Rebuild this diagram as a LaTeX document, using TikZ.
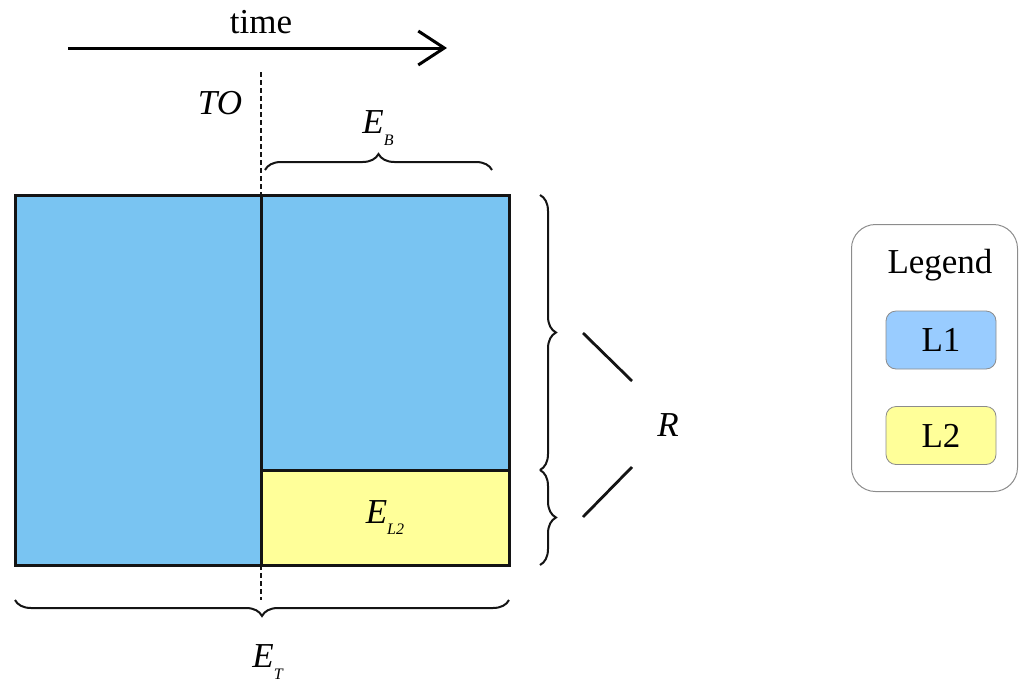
\documentclass[tikz,border=0pt]{standalone}
\usepackage{fontspec}
\setmainfont{Liberation Serif}
\usepackage{tikz}
\usetikzlibrary{arrows.meta,positioning,calc,decorations.pathreplacing}
\definecolor{lone}{RGB}{121,196,242}
\definecolor{lonelt}{RGB}{153,204,255}
\definecolor{ltwo}{RGB}{255,255,153}
\definecolor{frame}{RGB}{140,140,140}
\definecolor{ink}{RGB}{20,20,20}
\newcommand{\lowsub}[1]{\raisebox{-0.7ex}{\fontsize{8}{9}\selectfont\textit{#1}}}

\begin{document}
\begin{tikzpicture}[x=0.5pt,y=-0.5pt,>=Stealth,font=\fontsize{17.5}{20}\selectfont]
\tikzset{region/.style={draw=ink,line width=1.5pt,inner sep=0pt,outer sep=0pt},
  keybox/.style={draw=frame,rounded corners=5pt,inner sep=0pt,minimum width=55pt,minimum height=29pt,line width=0.4pt},
  curly/.style={decorate,decoration={brace,amplitude=8pt},line width=1pt,draw=ink},
  tick/.style={line width=1.4pt,draw=ink},
  cut/.style={line width=1.3pt,draw=ink,dash pattern=on 2.5pt off 1.5pt}}
\useasboundingbox (0,0) rectangle (1019,681);
% time axis
\coordinate (t0) at (68,48);
\coordinate (t1) at (447,48);
\draw[line width=1.5pt,-{Straight Barb[length=13pt,width=17pt,line width=1.5pt]}] (t0) -- (t1);
\node (time) at (261,22) {time};
% regions
\node[region,fill=lone,minimum width=247pt,minimum height=185pt,anchor=north west] (all) at (15,195) {};
\node[region,fill=lone,minimum width=124pt,minimum height=137.5pt,anchor=north west] (lb) at (261,195) {};
\node[region,fill=ltwo,minimum width=124pt,minimum height=47.5pt,anchor=north west] (ltwo) at (261,470) {\textit{E}\lowsub{L2}};
% cut-over
\coordinate (c0) at (261,72);
\coordinate (c1) at (261,600);
\draw[cut] (c0) -- (lb.north west);
\draw[cut] (ltwo.south west) -- (c1);
\node (to) at (220,103) {\textit{TO}};
% braces
\coordinate (b0) at (265,170);
\coordinate (b1) at (492,170);
\draw[curly] (b0) -- (b1);
\node (eb) at (378,128) {\textit{E}\lowsub{B}};
\coordinate (r0) at (540,195);
\coordinate (r1) at (540,470);
\coordinate (r2) at (540,565);
\draw[curly] (r0) -- (r1);
\draw[curly] (r1) -- (r2);
\coordinate (s0) at (15,600);
\coordinate (s1) at (509,600);
\draw[curly] (s1) -- (s0);
\node (et) at (268,662) {\textit{E}\lowsub{T}};
% R
\node (r) at (668,425) {\textit{R}};
\coordinate (u0) at (583,333);
\coordinate (u1) at (632,381);
\coordinate (d0) at (583,517);
\coordinate (d1) at (632,467);
\draw[tick] (u0) -- (u1);
\draw[tick] (d0) -- (d1);
% legend
\node[draw=frame,rounded corners=12pt,minimum width=83pt,minimum height=133.5pt,anchor=north west,line width=0.5pt] (legend) at (851,224) {};
\node (lgtitle) at (940,265) {Legend};
\node[keybox,fill=lonelt] (k1) at (941,340) {L1};
\node[keybox,fill=ltwo] (k2) at (941,435.5) {L2};
\end{tikzpicture}
\end{document}
